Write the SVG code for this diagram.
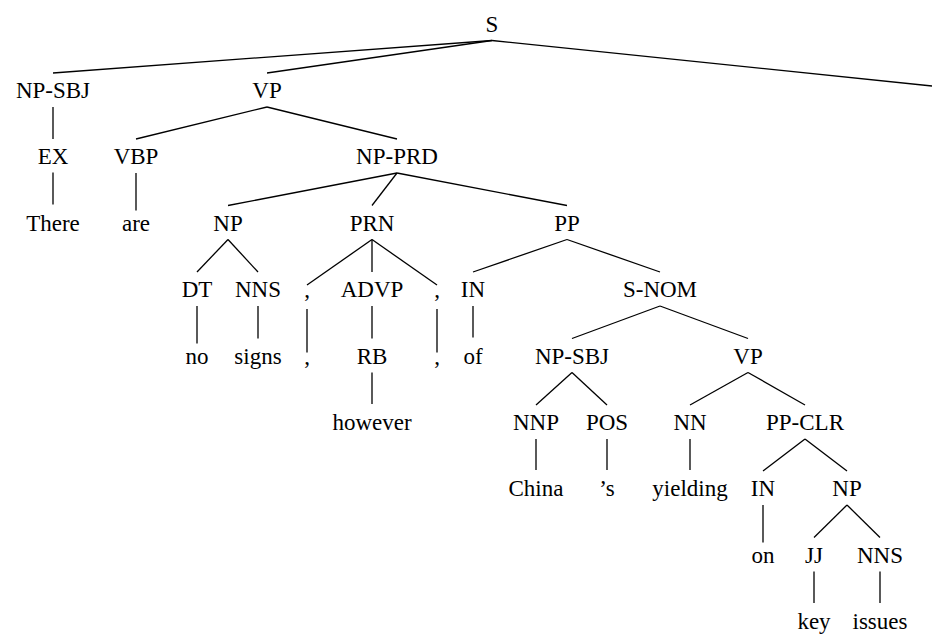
<svg xmlns="http://www.w3.org/2000/svg" width="932" height="635" viewBox="0 0 932 635">
<style>
line{stroke:#000;stroke-width:1.3}
</style>
<rect width="932" height="635" fill="#fff"/>
<g id="connectors">
<line x1="492" y1="40.5" x2="53" y2="73"/>
<line x1="492" y1="40.5" x2="267" y2="73"/>
<line x1="492" y1="40.5" x2="932" y2="86"/>
<line x1="53" y1="107" x2="53" y2="139"/>
<line x1="53" y1="172.5" x2="53" y2="204.5"/>
<line x1="267" y1="107" x2="136" y2="139"/>
<line x1="267" y1="107" x2="397" y2="139"/>
<line x1="136" y1="173" x2="136" y2="210.5"/>
<line x1="397" y1="173" x2="228" y2="205.5"/>
<line x1="397" y1="173" x2="372" y2="205.5"/>
<line x1="397" y1="173" x2="567" y2="205.5"/>
<line x1="228" y1="239.5" x2="197" y2="272"/>
<line x1="228" y1="239.5" x2="258" y2="272"/>
<line x1="197" y1="306" x2="197" y2="343.5"/>
<line x1="258" y1="306" x2="258" y2="338.5"/>
<line x1="372" y1="239.5" x2="307" y2="285"/>
<line x1="372" y1="239.5" x2="372" y2="272"/>
<line x1="372" y1="239.5" x2="437" y2="285"/>
<line x1="307" y1="309" x2="307" y2="352.5"/>
<line x1="372" y1="306" x2="372" y2="338.5"/>
<line x1="437" y1="309" x2="437" y2="352.5"/>
<line x1="372" y1="372.5" x2="372" y2="404"/>
<line x1="567" y1="239.5" x2="473" y2="272"/>
<line x1="567" y1="239.5" x2="660" y2="272"/>
<line x1="473" y1="306" x2="473" y2="337.5"/>
<line x1="660" y1="306" x2="572" y2="338.5"/>
<line x1="660" y1="306" x2="748" y2="338.5"/>
<line x1="572" y1="372.5" x2="536" y2="405"/>
<line x1="572" y1="372.5" x2="607" y2="405"/>
<line x1="536" y1="439" x2="536" y2="470"/>
<line x1="607" y1="439" x2="607" y2="470"/>
<line x1="748" y1="372.5" x2="690" y2="405"/>
<line x1="748" y1="372.5" x2="805" y2="405"/>
<line x1="690" y1="439" x2="690" y2="470"/>
<line x1="805" y1="439" x2="763" y2="471"/>
<line x1="805" y1="439" x2="847" y2="471"/>
<line x1="763" y1="505" x2="763" y2="542.5"/>
<line x1="847" y1="505" x2="814" y2="537.5"/>
<line x1="847" y1="505" x2="880" y2="537.5"/>
<line x1="814" y1="571.5" x2="814" y2="603"/>
<line x1="880" y1="571.5" x2="880" y2="603"/>
</g>
<g id="nodes" font-family="Liberation Serif, Times New Roman, serif" font-size="23" text-anchor="middle" fill="#000">
<g id="n-S"><text x="492" y="31.5">S</text></g>
<g id="n-NP-SBJ"><text x="53" y="98">NP-SBJ</text></g>
<g id="n-VP"><text x="267" y="98">VP</text></g>
<g id="n-EX"><text x="53" y="164">EX</text></g>
<g id="n-There"><text x="53" y="230.5">There</text></g>
<g id="n-VBP"><text x="136" y="164">VBP</text></g>
<g id="n-are"><text x="136" y="230.5">are</text></g>
<g id="n-NP-PRD"><text x="397" y="164">NP-PRD</text></g>
<g id="n-NP"><text x="228" y="230.5">NP</text></g>
<g id="n-PRN"><text x="372" y="230.5">PRN</text></g>
<g id="n-PP"><text x="567" y="230.5">PP</text></g>
<g id="n-DT"><text x="197" y="297">DT</text></g>
<g id="n-NNS"><text x="258" y="297">NNS</text></g>
<g id="n-no"><text x="197" y="363.5">no</text></g>
<g id="n-signs"><text x="258" y="363.5">signs</text></g>
<g id="n-comma1"><text x="307" y="297">,</text></g>
<g id="n-ADVP"><text x="372" y="297">ADVP</text></g>
<g id="n-comma2"><text x="437" y="297">,</text></g>
<g id="n-comma1-leaf"><text x="307" y="363.5">,</text></g>
<g id="n-RB"><text x="372" y="363.5">RB</text></g>
<g id="n-comma2-leaf"><text x="437" y="363.5">,</text></g>
<g id="n-however"><text x="372" y="430">however</text></g>
<g id="n-IN"><text x="473" y="297">IN</text></g>
<g id="n-of"><text x="473" y="363.5">of</text></g>
<g id="n-S-NOM"><text x="660" y="297">S-NOM</text></g>
<g id="n-NP-SBJ2"><text x="572" y="363.5">NP-SBJ</text></g>
<g id="n-VP2"><text x="748" y="363.5">VP</text></g>
<g id="n-NNP"><text x="536" y="430">NNP</text></g>
<g id="n-POS"><text x="607" y="430">POS</text></g>
<g id="n-China"><text x="536" y="496">China</text></g>
<g id="n-s"><text x="607" y="496">’s</text></g>
<g id="n-NN"><text x="690" y="430">NN</text></g>
<g id="n-yielding"><text x="690" y="496">yielding</text></g>
<g id="n-PP-CLR"><text x="805" y="430">PP-CLR</text></g>
<g id="n-IN2"><text x="763" y="496">IN</text></g>
<g id="n-on"><text x="763" y="562.5">on</text></g>
<g id="n-NP2"><text x="847" y="496">NP</text></g>
<g id="n-JJ"><text x="814" y="562.5">JJ</text></g>
<g id="n-NNS2"><text x="880" y="562.5">NNS</text></g>
<g id="n-key"><text x="814" y="629">key</text></g>
<g id="n-issues"><text x="880" y="629">issues</text></g>
</g>
</svg>
